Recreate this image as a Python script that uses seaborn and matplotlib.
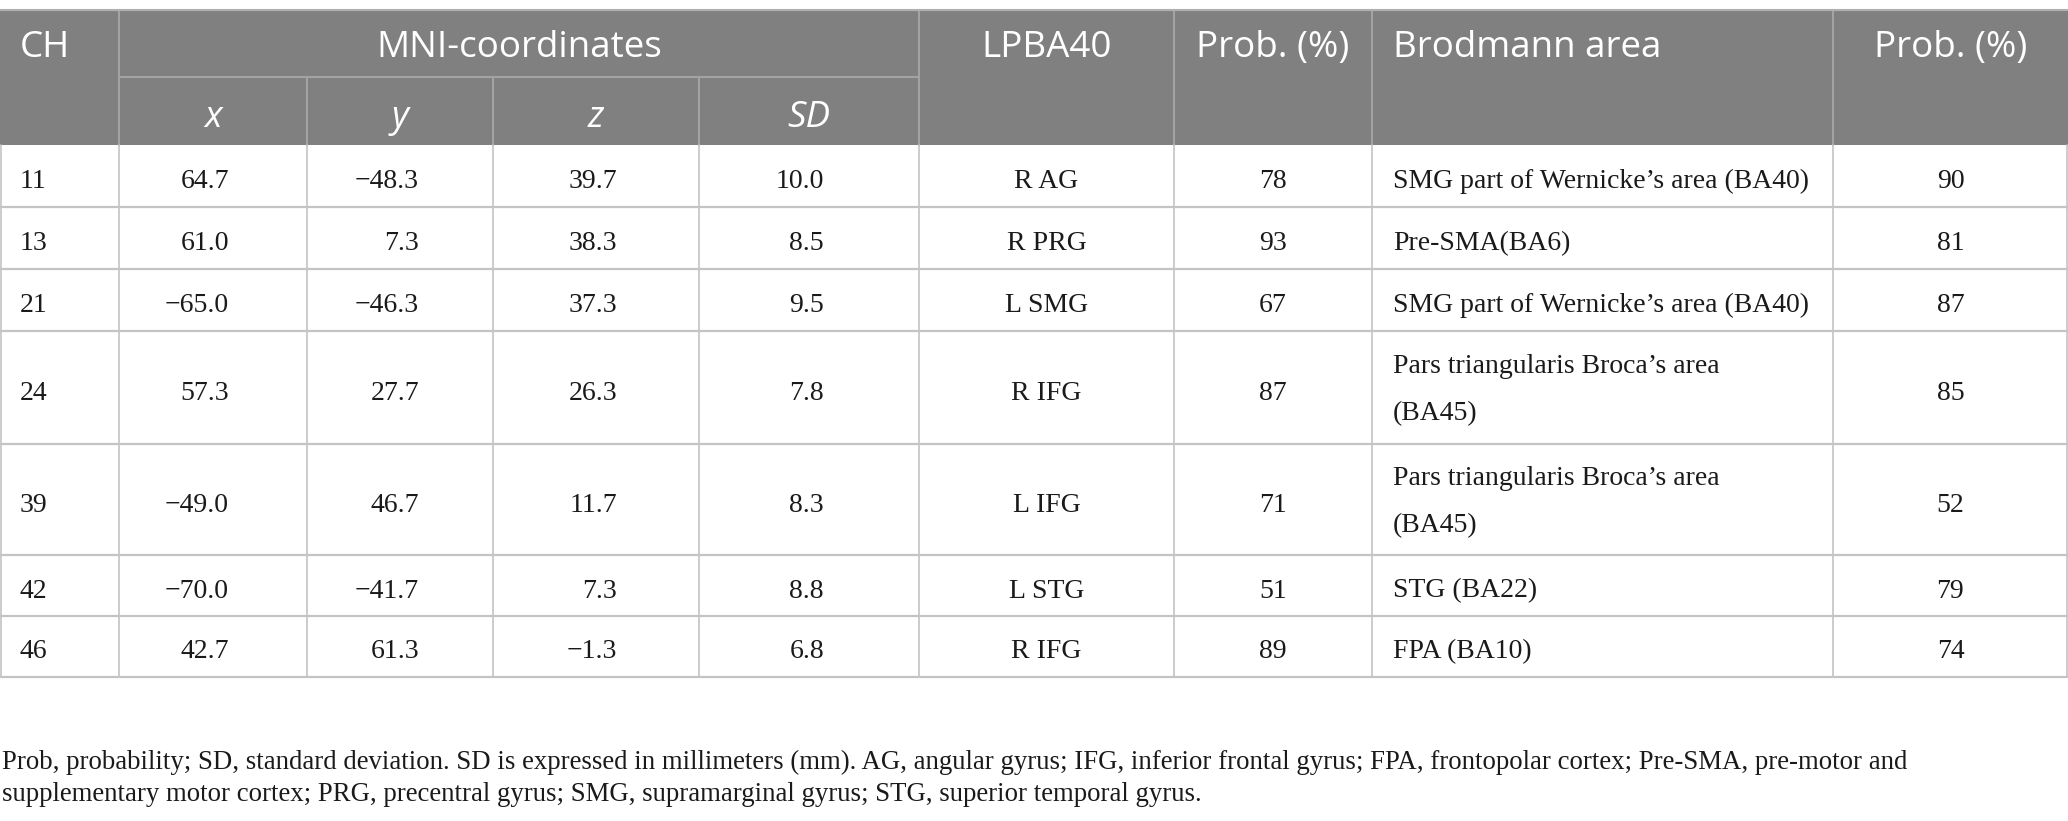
import matplotlib
matplotlib.use("Agg")
import matplotlib.pyplot as plt
from matplotlib.patches import Rectangle
import seaborn as sns

sns.set_theme(style="white")
plt.rcParams['font.family'] = ['Liberation Serif', 'DejaVu Serif']

# ---------------- data ----------------
channels = ["11", "13", "21", "24", "39", "42", "46"]
mni_x = [64.7, 61.0, -65.0, 57.3, -49.0, -70.0, 42.7]
mni_y = [-48.3, 7.3, -46.3, 27.7, 46.7, -41.7, 61.3]
mni_z = [39.7, 38.3, 37.3, 26.3, 11.7, 7.3, -1.3]
mni_sd = [10.0, 8.5, 9.5, 7.8, 8.3, 8.8, 6.8]
lpba40 = ["R AG", "R PRG", "L SMG", "R IFG", "L IFG", "L STG", "R IFG"]
lpba_prob = [78, 93, 67, 87, 71, 51, 89]
brodmann = ["SMG part of Wernicke\u2019s area (BA40)", "Pre-SMA(BA6)",
            "SMG part of Wernicke\u2019s area (BA40)",
            "Pars triangularis Broca\u2019s area\n(BA45)",
            "Pars triangularis Broca\u2019s area\n(BA45)",
            "STG (BA22)", "FPA (BA10)"]
ba_prob = [90, 81, 87, 85, 52, 79, 74]
header_top = ["CH", "MNI-coordinates", "LPBA40", "Prob. (%)", "Brodmann area", "Prob. (%)"]
header_sub = ["x", "y", "z", "SD"]
footnote_lines = [
    "Prob, probability; SD, standard deviation. SD is expressed in millimeters (mm). "
    "AG, angular gyrus; IFG, inferior frontal gyrus; FPA, frontopolar cortex; Pre-SMA, pre-motor and",
    "supplementary motor cortex; PRG, precentral gyrus; SMG, supramarginal gyrus; STG, superior temporal gyrus.",
]

# ---------------- layout ----------------
W, H = 2068, 821
fig = plt.figure(figsize=(W / 100, H / 100), dpi=100)
ax = fig.add_axes([0, 0, 1, 1])
ax.set_xlim(0, W)
ax.set_ylim(H, 0)
ax.axis("off")

cols = [0, 119, 307, 493, 699, 919, 1174, 1372, 1833, 2068]
h_top, h_mid, h_bot = 10, 77, 145
rows = [145, 207, 269, 331, 444, 555, 616, 677]

HDR = "#7f807f"
GRID = "#c4c4c4"
HGRID = "#a3a3a3"
TXT = "#1a1a1a"
fs_body = 20
fs_foot = 19.3
fs_head = 26.5
hfont = ["Open Sans", "DejaVu Sans"]

# header background
ax.add_patch(Rectangle((0, h_top), W, h_bot - h_top, facecolor=HDR, edgecolor="none", zorder=1))
# header inner lines
ax.plot([cols[1], cols[5]], [h_mid, h_mid], color=HGRID, lw=1.5, zorder=2)
for c in [cols[1], cols[5], cols[6], cols[7], cols[8]]:
    ax.plot([c, c], [h_top, h_bot], color=HGRID, lw=1.5, zorder=2)
for c in cols[2:5]:
    ax.plot([c, c], [h_mid, h_bot], color=HGRID, lw=1.5, zorder=2)
ax.plot([0, W], [h_top, h_top], color="#b0b0b0", lw=1.5, zorder=2)

# body grid
for r in rows[1:]:
    ax.plot([0, W], [r, r], color=GRID, lw=1.6, zorder=2)
for c in cols[1:-1]:
    ax.plot([c, c], [rows[0], rows[-1]], color=GRID, lw=1.2, zorder=2)
ax.plot([0.7, 0.7], [rows[0], rows[-1]], color=GRID, lw=1.2, zorder=2)
ax.plot([W - 0.7, W - 0.7], [rows[0], rows[-1]], color=GRID, lw=1.2, zorder=2)

# header text
hb = 57
def htext(x, y, s, ha, **kw):
    ax.text(x, y, s, color="white", fontsize=fs_head, family=hfont, va="baseline", ha=ha, **kw)

htext(cols[0] + 20, hb, header_top[0], "left")
htext((cols[1] + cols[5]) / 2, hb, header_top[1], "center")
htext((cols[5] + cols[6]) / 2, hb, header_top[2], "center")
htext((cols[6] + cols[7]) / 2, hb, header_top[3], "center")
htext(cols[7] + 21, hb, header_top[4], "left")
htext((cols[8] + cols[9]) / 2, hb, header_top[5], "center")
sb = 127
for i, lab in enumerate(header_sub):
    htext((cols[1 + i] + cols[2 + i]) / 2, sb, lab, "center", style="italic")

# body text
def fmt(v):
    s = f"{abs(v):.1f}"
    return ("\u2212" + s) if v < 0 else s

def btext(x, y, s, ha):
    ax.text(x, y, s, fontsize=fs_body, color=TXT, va="baseline", ha=ha)

right_edges = [229, 419, 617, 824]
for i in range(len(channels)):
    yb = (rows[i] + rows[i + 1]) / 2 + 12
    btext(cols[0] + 20, yb, channels[i], "left")
    for j, arr in enumerate([mni_x, mni_y, mni_z, mni_sd]):
        btext(right_edges[j], yb, fmt(arr[i]), "right")
    btext((cols[5] + cols[6]) / 2, yb, lpba40[i], "center")
    btext((cols[6] + cols[7]) / 2, yb, str(lpba_prob[i]), "center")
    lines = brodmann[i].split("\n")
    n = len(lines)
    for k, ln in enumerate(lines):
        btext(cols[7] + 21, yb - 3 * (n > 1) + (k - (n - 1) / 2) * 47, ln, "left")
    btext((cols[8] + cols[9]) / 2, yb, str(ba_prob[i]), "center")

# footnote
for k, ln in enumerate(footnote_lines):
    ax.text(2, 769 + 32 * k, ln, fontsize=fs_foot, color=TXT, va="baseline", ha="left")

fig.savefig("out.png", dpi=100, facecolor="white")
